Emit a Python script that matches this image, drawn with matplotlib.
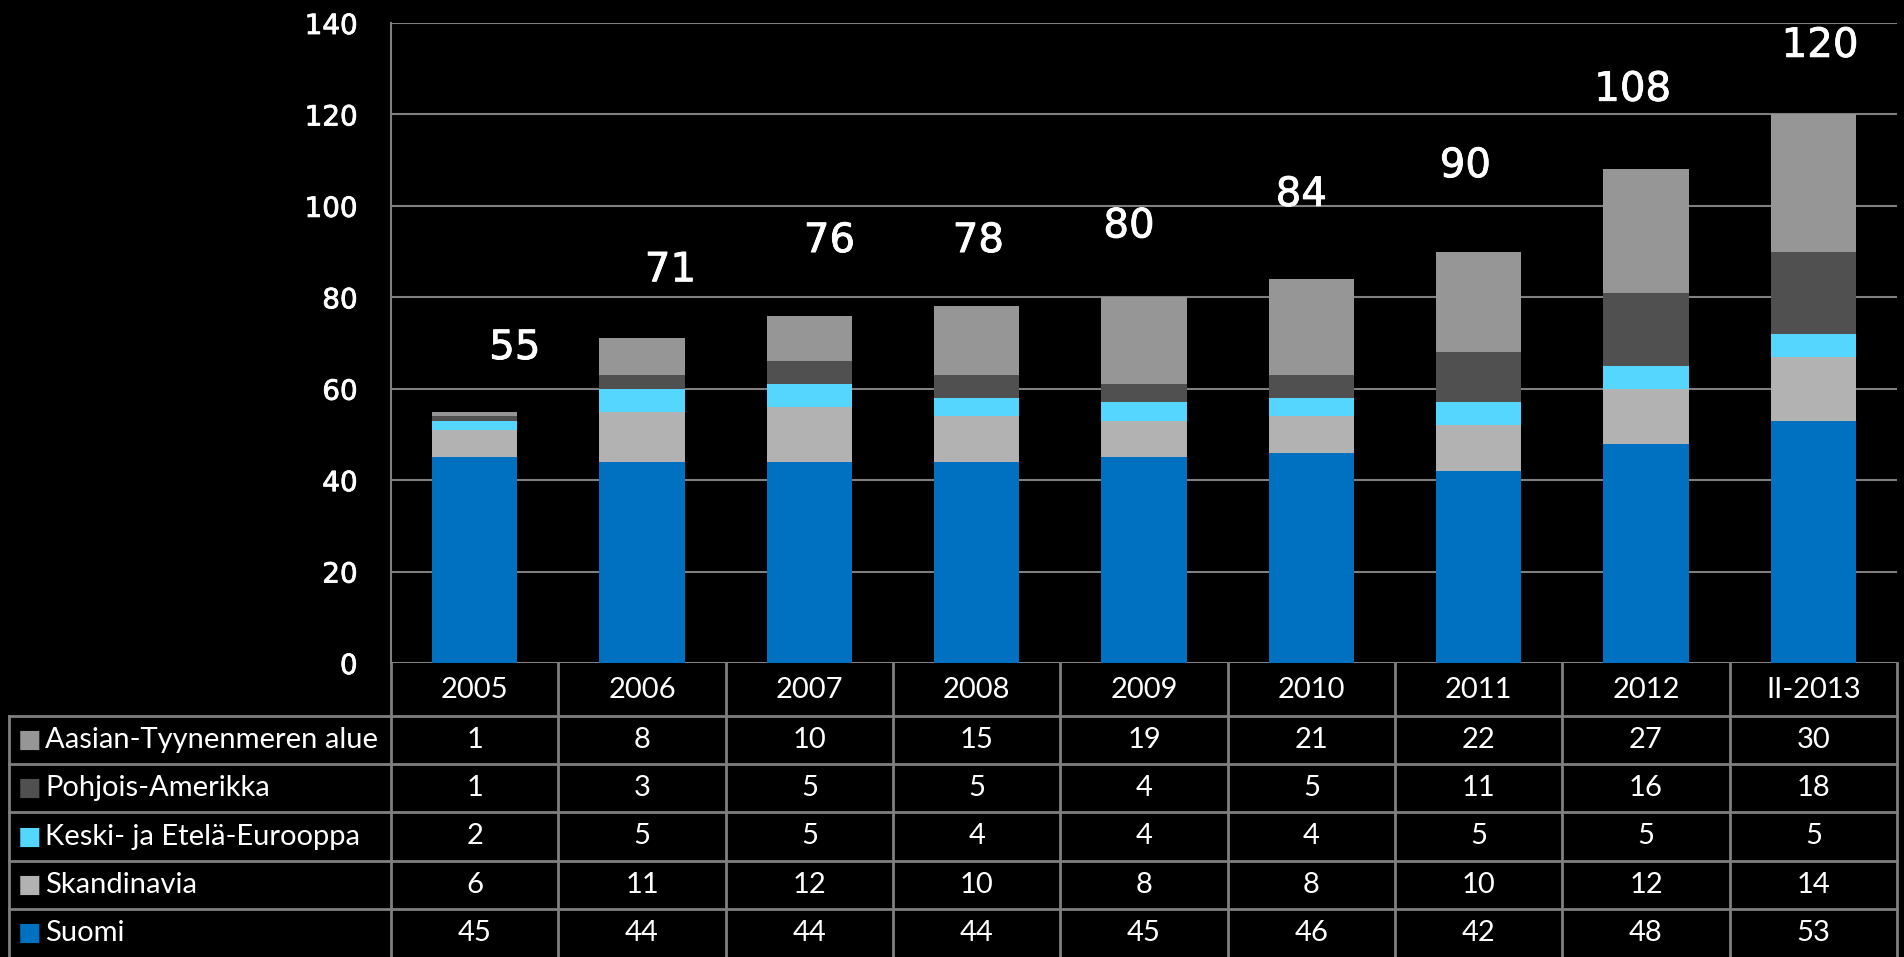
import numpy as np
import matplotlib
matplotlib.use("Agg")
import matplotlib.pyplot as plt
import matplotlib.patheffects as pe

years = ["2005", "2006", "2007", "2008", "2009", "2010", "2011", "2012", "II-2013"]
# stacked from bottom to top
series_names = ["Suomi", "Skandinavia", "Keski- ja Etelä-Eurooppa",
                "Pohjois-Amerikka", "Aasian-Tyynenmeren alue"]
suomi = [45, 44, 44, 44, 45, 46, 42, 48, 53]
skandinavia = [6, 11, 12, 10, 8, 8, 10, 12, 14]
keski_etela = [2, 5, 5, 4, 4, 4, 5, 5, 5]
pohjois_am = [1, 3, 5, 5, 4, 5, 11, 16, 18]
aasia = [1, 8, 10, 15, 19, 21, 22, 27, 30]
series_colors = ["#0070C0", "#B2B2B2", "#55D6FF", "#505050", "#969696"]

# manual placement of the total labels (offsets from bar top / centre)
label_dx = [0.24, 0.17, 0.12, 0.01, -0.09, -0.06, -0.08, -0.08, 0.04]
label_dy = [13.9, 14.9, 16.3, 14.3, 15.5, 18.4, 18.7, 17.4, 15.0]

W, H = 1904, 957
fig = plt.figure(figsize=(W / 100, H / 100), dpi=100, facecolor="black")

# slightly heavier than regular weight
medium = [pe.withStroke(linewidth=0.6, foreground="white")]

left, right, top, zero = 391, 1897, 23, 663
ax = fig.add_axes([left / W, (H - zero) / H, (right - left) / W, (zero - top) / H])
ax.set_facecolor("black")

data = [suomi, skandinavia, keski_etela, pohjois_am, aasia]
x = np.arange(len(years))
bottom = np.zeros(len(years))
for vals, col in zip(data, series_colors):
    ax.bar(x, vals, width=0.51, bottom=bottom, color=col, zorder=3)
    bottom += np.array(vals)

for i, tot in enumerate(bottom):
    ax.text(i + label_dx[i], tot + label_dy[i], f"{int(tot)}", color="white",
            fontsize=29, ha="center", va="center", family="DejaVu Sans",
            path_effects=medium)

ax.set_xlim(-0.5, len(years) - 0.5)
ax.set_ylim(0, 140)
ax.set_yticks(range(0, 141, 20))
ax.yaxis.grid(True, color="#7F7F7F", linewidth=1.5, zorder=0)
ax.set_xticks([])
for s in ["top", "right", "bottom"]:
    ax.spines[s].set_visible(False)
ax.spines["left"].set_color("#7F7F7F")
ax.spines["left"].set_linewidth(1.5)
ax.tick_params(axis="y", length=0, pad=24, labelcolor="white", labelsize=20)
for lbl in ax.get_yticklabels():
    lbl.set_family("DejaVu Sans")
    lbl.set_path_effects(medium)

# data table below the chart
tab_h = H - zero
axt = fig.add_axes([left / W, 0, (right - left) / W, tab_h / H])
axt.set_facecolor("black")
axt.set_xlim(-0.5, len(years) - 0.5)
axt.set_ylim(0, tab_h)
axt.axis("off")

col_w = (right - left) / len(years)
x_tab_left = -0.5 - (left - 9) / col_w
row_h = 48.2
header_bot = 5 * row_h
grid_kw = dict(color="#7F7F7F", linewidth=2, clip_on=False)
tfont = dict(color="white", fontsize=21, family="Lato")

axt.plot([-0.5, -0.5], [0, tab_h], **grid_kw)
for k in range(1, len(years) + 1):
    axt.plot([k - 0.5, k - 0.5], [0, tab_h], **grid_kw)
axt.plot([x_tab_left, x_tab_left], [0, header_bot], **grid_kw)
for r in range(1, 6):
    axt.plot([x_tab_left, len(years) - 0.5], [r * row_h, r * row_h], **grid_kw)

for i, yr in enumerate(years):
    axt.text(i, (header_bot + tab_h) / 2, yr, ha="center", va="center", **tfont)

# table rows from top: reversed stack order
for r, (name, vals, col) in enumerate(zip(series_names[::-1], data[::-1], series_colors[::-1])):
    yc = header_bot - (r + 0.5) * row_h
    axt.text(x_tab_left + 0.12, yc, "■", color=col, fontsize=18, ha="center",
             va="center", family="DejaVu Sans", clip_on=False)
    axt.text(x_tab_left + 0.215, yc, name, ha="left", va="center", clip_on=False, **tfont)
    for i, v in enumerate(vals):
        axt.text(i, yc, str(v), ha="center", va="center", **tfont)

fig.savefig("out.png", dpi=100, facecolor="black")
